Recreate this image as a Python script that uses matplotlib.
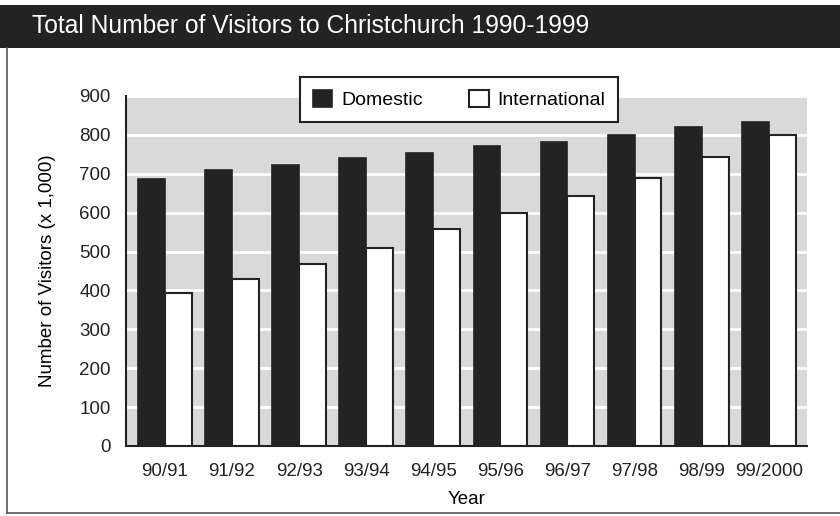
import numpy as np
import matplotlib.pyplot as plt
from matplotlib.patches import Rectangle
from matplotlib.lines import Line2D

plt.rcParams['font.family'] = ['Liberation Sans', 'DejaVu Sans']

# Data (thousands of visitors)
years = ["90/91", "91/92", "92/93", "93/94", "94/95", "95/96", "96/97", "97/98", "98/99", "99/2000"]
domestic = [686, 711, 722, 741, 753, 771, 782, 801, 820, 832]
international = [393, 429, 467, 508, 557, 599, 643, 689, 744, 800]

fig = plt.figure(figsize=(8.4, 5.16), dpi=100)

# Title band and frame
fig.patches.append(Rectangle((0, 1 - 48/516), 1, 43/516, transform=fig.transFigure,
                             facecolor='#232323', edgecolor='none', zorder=0))
fig.text(32/840, 1 - 26/516, "Total Number of Visitors to Christchurch 1990-1999",
         color='white', fontsize=17.7, va='center', ha='left')
fig.lines.append(Line2D([7/840, 7/840], [1 - 48/516, 1 - 513/516], transform=fig.transFigure,
                        color='#555555', lw=1.2))
fig.lines.append(Line2D([7/840, 1], [1 - 513/516, 1 - 513/516], transform=fig.transFigure,
                        color='#555555', lw=1.2))

ax = fig.add_axes([126/840, 1 - 446/516, (807 - 126)/840, (446 - 96)/516])
ax.set_facecolor('#d9d9d9')

x = np.arange(len(years))
w = 0.4
ax.bar(x - w/2, domestic, w, color='#232323', edgecolor='#232323', linewidth=1.2,
       label='Domestic', zorder=3)
ax.bar(x + w/2, international, w, color='white', edgecolor='#232323', linewidth=1.5,
       label='International', zorder=3)

ax.set_xlim(-0.58, 9.57)
ax.set_ylim(0, 900)
ax.set_yticks(np.arange(0, 901, 100))
ax.set_xticks(x)
ax.set_xticklabels(years)
ax.yaxis.grid(True, color='white', linewidth=2)
ax.set_axisbelow(True)
ax.tick_params(length=0, labelsize=13.5, colors='#222222')
ax.tick_params(axis='y', pad=11)
ax.tick_params(axis='x', pad=12)
for s in ['top', 'right']:
    ax.spines[s].set_visible(False)
for s in ['left', 'bottom']:
    ax.spines[s].set_linewidth(1.5)
    ax.spines[s].set_color('#222222')

ax.set_ylabel("Number of Visitors (x 1,000)", fontsize=13.5, labelpad=17)
ax.set_xlabel("Year", fontsize=13.5, labelpad=8)

leg = ax.legend(loc='center', bbox_to_anchor=((299 + 619)/2/840, 1 - (76 + 123)/2/516),
                bbox_transform=fig.transFigure, ncol=2, fontsize=14, frameon=True,
                fancybox=False, edgecolor='#222222', framealpha=1, columnspacing=2.4,
                handlelength=1.0, handleheight=1.0, handletextpad=0.45, borderpad=0.65)
leg.get_frame().set_linewidth(1.5)

plt.savefig("out.png", dpi=100)
